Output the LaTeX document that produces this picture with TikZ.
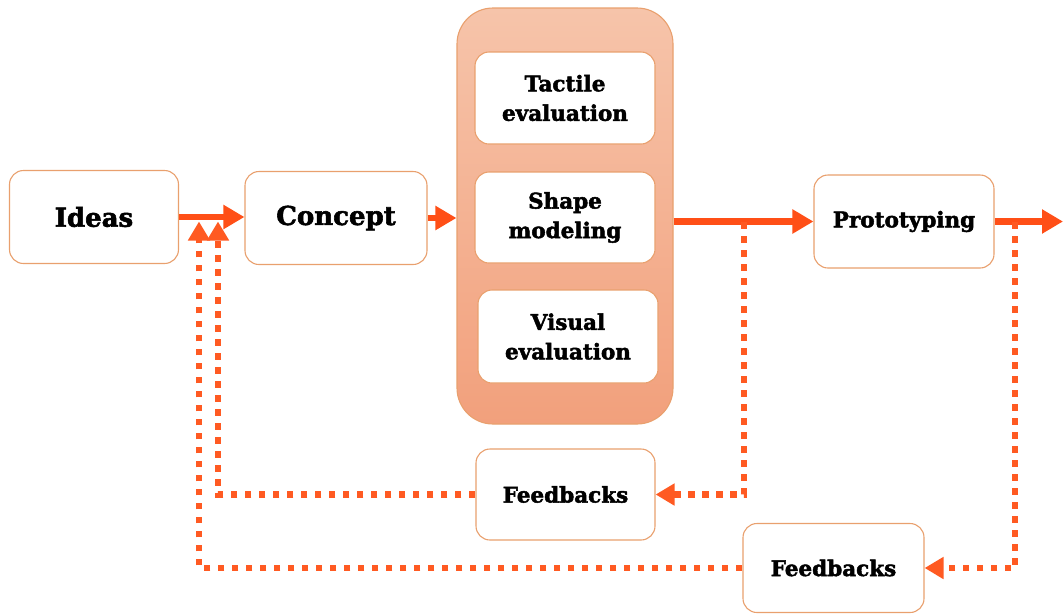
\documentclass[tikz,border=0pt]{standalone}
\usepackage{fontspec}
\newfontfamily\heavy{DejaVu Serif}[UprightFont=* Bold, FakeBold=2.2]
\usetikzlibrary{arrows.meta}
\definecolor{flowred}{HTML}{FF4F17}
\definecolor{loopred}{HTML}{FF5A22}
\definecolor{edge}{HTML}{E9A06E}
\definecolor{peachtop}{HTML}{F6C4AA}
\definecolor{peachbot}{HTML}{F2A07C}
\begin{document}
\begin{tikzpicture}[x=1pt,y=-1pt,
  box/.style={draw=edge,line width=1.1pt,fill=white,rounded corners=14pt,inner sep=0pt},
  bigfont/.style={font={\heavy\fontsize{26}{30}\selectfont}},
  smallfont/.style={font={\heavy\fontsize{21.5}{29.5}\selectfont},align=center},
  flow/.style={draw=flowred,line width=6.5pt,-{Triangle[length=21pt,width=23pt]}},
  loop/.style={draw=loopred,line width=6.5pt,dash pattern=on 6.5pt off 7.5pt,
    -{Triangle[length=19pt,width=21pt]}}]
\fill[white] (0,0) rectangle (1063,614);
\useasboundingbox (0,0) rectangle (1063,614);

% main stages
\node[box,bigfont,minimum width=169pt,minimum height=93pt] (ideas) at (94,217) {Ideas};
\node[box,bigfont,minimum width=182pt,minimum height=93pt] (concept) at (336,218) {Concept};

% design group
\node[draw=edge,line width=1.1pt,rounded corners=36pt,top color=peachtop,bottom color=peachbot,
  minimum width=216pt,minimum height=416pt,inner sep=0pt] (group) at (565,216) {};
\node[box,smallfont,minimum width=180pt,minimum height=92pt] (tactile) at (565,98) {Tactile\\evaluation};
\node[box,smallfont,minimum width=180pt,minimum height=91pt] (shape) at (565,217.5) {Shape\\modeling};
\node[box,smallfont,minimum width=180pt,minimum height=93pt] (visual) at (568,336.5) {Visual\\evaluation};

\node[box,smallfont,minimum width=180pt,minimum height=93pt] (proto) at (904,221.5) {Prototyping};

% feedback boxes
\node[box,smallfont,minimum width=179pt,minimum height=91pt] (fb1) at (565.5,494.5) {Feedbacks};
\node[box,smallfont,minimum width=181pt,minimum height=89pt] (fb2) at (833.5,568) {Feedbacks};

% forward flow
\draw[flow] (ideas.east) -- (concept.west |- ideas.east);
\draw[flow] (concept.east) -- (group.west |- concept.east);
\draw[flow] (group.east |- proto.west) -- (proto.west);
\coordinate (out) at (1063,221.5);
\draw[flow] (proto.east) -- (out);

% feedback loops
\coordinate (s1) at (744,222);
\coordinate (s2) at (1015,222);
\coordinate (j1) at (218,221.5);
\coordinate (j2) at (199,221.5);
\draw[loop] (s1) |- (fb1.east);
\draw[loop] (s2) |- (fb2.east);
\draw[loop] (fb1.west) -| (j1);
\draw[loop] (fb2.west) -| (j2);
\end{tikzpicture}
\end{document}
